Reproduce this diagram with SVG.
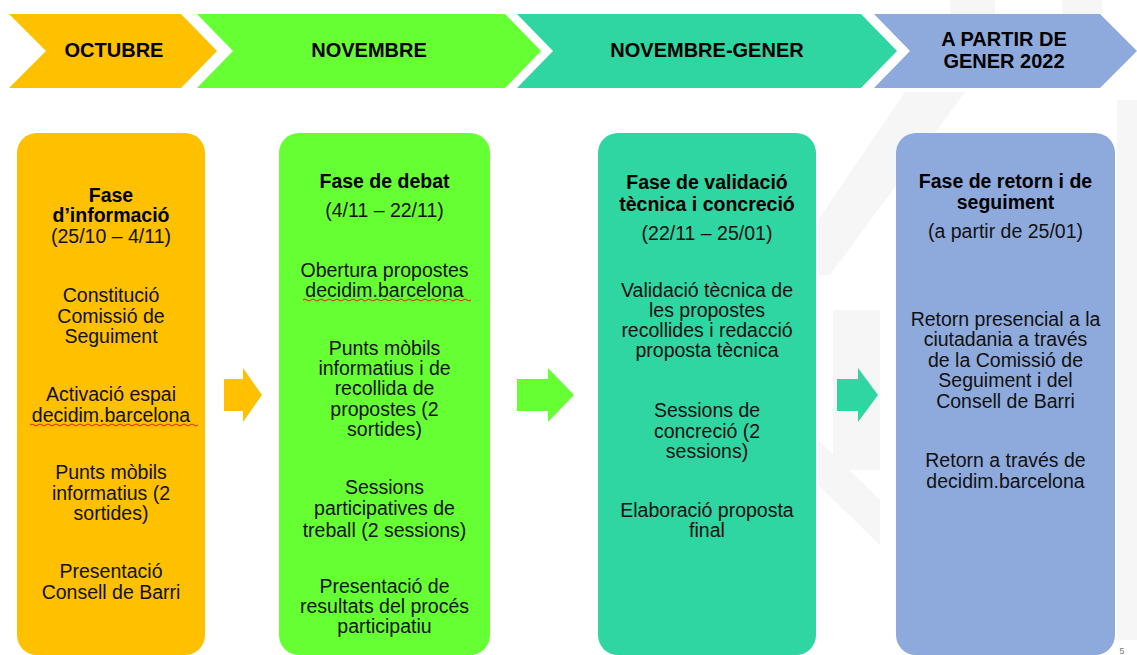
<svg xmlns="http://www.w3.org/2000/svg" width="1137" height="655" viewBox="0 0 1137 655">
<style>
  text { font-family: "Liberation Sans", Arial, sans-serif; fill: #000; text-anchor: middle; }
  .h { font-size: 20px; font-weight: bold; }
  .t { font-size: 19.5px; font-weight: bold; }
  .b { font-size: 19.5px; fill: #111; }
  .wm { fill: #f6f6f6; }
  .spell { fill: none; stroke: #e02020; stroke-width: 1; }
</style>
<rect width="1137" height="655" fill="#ffffff"/>
<g id="watermark">
  <polygon class="wm" points="905,92 965,92 830,275 818,275 818,220"/>
  <rect class="wm" x="833" y="310" width="47" height="160"/>
  <polygon class="wm" points="818,440 880,500 880,545 818,485"/>
  <rect class="wm" x="1117" y="100" width="20" height="540"/>
  <rect class="wm" x="1062" y="0" width="40" height="14"/>
  <rect class="wm" x="950" y="0" width="45" height="14"/>
</g>
<g id="chevrons">
  <g id="chev-octubre">
    <polygon points="9,14 181,14 217,51 181,88 9,88 46,51" fill="#FFC000"/>
    <text class="h" x="114" y="57">OCTUBRE</text>
  </g>
  <g id="chev-novembre">
    <polygon points="197,14 505,14 541,51 505,88 197,88 233,51" fill="#66FF33"/>
    <text class="h" x="369" y="57">NOVEMBRE</text>
  </g>
  <g id="chev-novgener">
    <polygon points="517,14 861,14 897,51 861,88 517,88 553,51" fill="#2FD6A2"/>
    <text class="h" x="707" y="57">NOVEMBRE-GENER</text>
  </g>
  <g id="chev-gener2022">
    <polygon points="874,14 1100,14 1137,51 1100,88 874,88 910,51" fill="#8EAADC"/>
    <text class="h" x="1004" y="46">A PARTIR DE</text>
    <text class="h" x="1004" y="68">GENER 2022</text>
  </g>
</g>
<g id="box-informacio">
  <rect x="17" y="133" width="188" height="522" rx="20" fill="#FFC000"/>
  <text class="t" x="111" y="202">Fase</text>
  <text class="t" x="111" y="222">d’informació</text>
  <text class="b" x="111" y="243">(25/10 – 4/11)</text>
  <text class="b" x="111" y="302">Constitució</text>
  <text class="b" x="111" y="323">Comissió de</text>
  <text class="b" x="111" y="343">Seguiment</text>
  <text class="b" x="111" y="401">Activació espai</text>
  <text class="b" x="111" y="422">decidim.barcelona</text>
  <path class="spell" d="M30,425 q2,-2 4,0 t4,0 t4,0 t4,0 t4,0 t4,0 t4,0 t4,0 t4,0 t4,0 t4,0 t4,0 t4,0 t4,0 t4,0 t4,0 t4,0 t4,0 t4,0 t4,0 t4,0 t4,0 t4,0 t4,0 t4,0 t4,0 t4,0 t4,0 t4,0 t4,0 t4,0 t4,0 t4,0 t4,0 t4,0 t4,0 t4,0 t4,0 t4,0 t4,0 t4,0 t4,0"/>
  <text class="b" x="111" y="479">Punts mòbils</text>
  <text class="b" x="111" y="500">informatius (2</text>
  <text class="b" x="111" y="520">sortides)</text>
  <text class="b" x="111" y="578">Presentació</text>
  <text class="b" x="111" y="599">Consell de Barri</text>
</g>
<g id="box-debat">
  <rect x="279" y="133" width="211" height="522" rx="20" fill="#66FF33"/>
  <text class="t" x="384.5" y="188">Fase de debat</text>
  <text class="b" x="384.5" y="217">(4/11 – 22/11)</text>
  <text class="b" x="384.5" y="277">Obertura propostes</text>
  <text class="b" x="384.5" y="297">decidim.barcelona</text>
  <path class="spell" d="M303,300 q2,-2 4,0 t4,0 t4,0 t4,0 t4,0 t4,0 t4,0 t4,0 t4,0 t4,0 t4,0 t4,0 t4,0 t4,0 t4,0 t4,0 t4,0 t4,0 t4,0 t4,0 t4,0 t4,0 t4,0 t4,0 t4,0 t4,0 t4,0 t4,0 t4,0 t4,0 t4,0 t4,0 t4,0 t4,0 t4,0 t4,0 t4,0 t4,0 t4,0 t4,0 t4,0 t4,0"/>
  <text class="b" x="384.5" y="355">Punts mòbils</text>
  <text class="b" x="384.5" y="375">informatius i de</text>
  <text class="b" x="384.5" y="395">recollida de</text>
  <text class="b" x="384.5" y="416">propostes (2</text>
  <text class="b" x="384.5" y="436">sortides)</text>
  <text class="b" x="384.5" y="494">Sessions</text>
  <text class="b" x="384.5" y="515">participatives de</text>
  <text class="b" x="384.5" y="537">treball (2 sessions)</text>
  <text class="b" x="384.5" y="593">Presentació de</text>
  <text class="b" x="384.5" y="613">resultats del procés</text>
  <text class="b" x="384.5" y="633">participatiu</text>
</g>
<g id="box-validacio">
  <rect x="598" y="133" width="218" height="522" rx="20" fill="#2FD6A2"/>
  <text class="t" x="707" y="189">Fase de validació</text>
  <text class="t" x="707" y="211">tècnica i concreció</text>
  <text class="b" x="707" y="240">(22/11 – 25/01)</text>
  <text class="b" x="707" y="297">Validació tècnica de</text>
  <text class="b" x="707" y="317">les propostes</text>
  <text class="b" x="707" y="337">recollides i redacció</text>
  <text class="b" x="707" y="357">proposta tècnica</text>
  <text class="b" x="707" y="417">Sessions de</text>
  <text class="b" x="707" y="438">concreció (2</text>
  <text class="b" x="707" y="458">sessions)</text>
  <text class="b" x="707" y="517">Elaboració proposta</text>
  <text class="b" x="707" y="537">final</text>
</g>
<g id="box-retorn">
  <rect x="896" y="133" width="219" height="522" rx="20" fill="#8EAADC"/>
  <text class="t" x="1005.5" y="188">Fase de retorn i de</text>
  <text class="t" x="1005.5" y="209">seguiment</text>
  <text class="b" x="1005.5" y="238">(a partir de 25/01)</text>
  <text class="b" x="1005.5" y="326">Retorn presencial a la</text>
  <text class="b" x="1005.5" y="346">ciutadania a través</text>
  <text class="b" x="1005.5" y="367">de la Comissió de</text>
  <text class="b" x="1005.5" y="387">Seguiment i del</text>
  <text class="b" x="1005.5" y="408">Consell de Barri</text>
  <text class="b" x="1005.5" y="467">Retorn a través de</text>
  <text class="b" x="1005.5" y="488">decidim.barcelona</text>
</g>
<g id="connectors">
  <polygon points="224,379 243,379 243,368 262,395 243,422 243,411 224,411" fill="#FFC000"/>
  <polygon points="517,379 548,379 548,368 574,395 548,422 548,411 517,411" fill="#66FF33"/>
  <polygon points="837,379 858,379 858,368 878,395 858,422 858,411 837,411" fill="#2FD6A2"/>
</g>
<text x="1122" y="654" style="font-size:9px; fill:#777;">5</text>
</svg>
